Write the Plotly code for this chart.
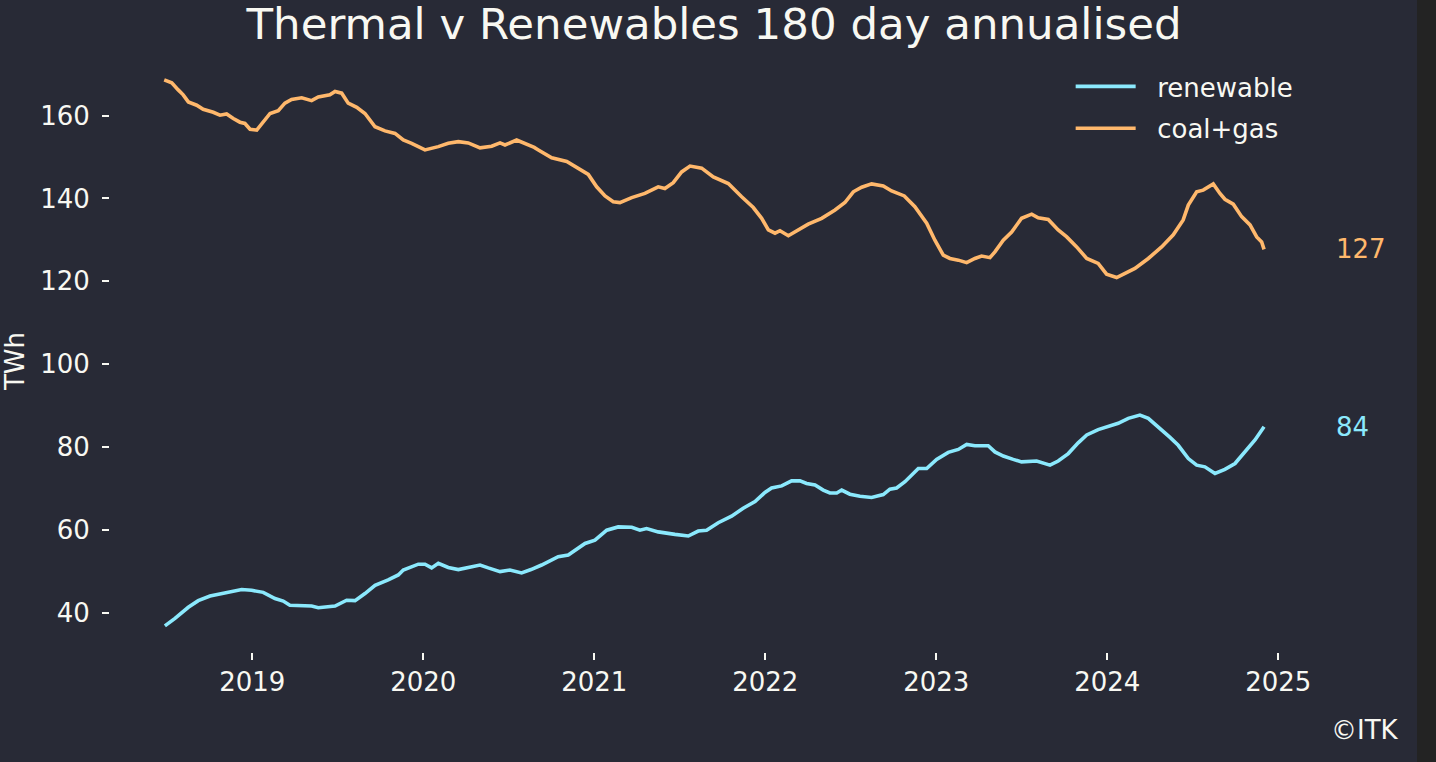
import pandas as pd
import plotly.graph_objects as go

# ---------------- data (decimal years, TWh) ----------------
coal_gas_years = [
    2018.485, 2018.529, 2018.567, 2018.596, 2018.626, 2018.675, 2018.713, 2018.772, 2018.811, 2018.850,
    2018.889, 2018.928, 2018.957, 2018.987, 2019.026, 2019.064, 2019.104, 2019.152, 2019.191, 2019.230,
    2019.289, 2019.347, 2019.386, 2019.454, 2019.484, 2019.523, 2019.561, 2019.611, 2019.659, 2019.718,
    2019.776, 2019.835, 2019.883, 2019.932, 2020.010, 2020.088, 2020.146, 2020.205, 2020.263, 2020.332,
    2020.400, 2020.449, 2020.478, 2020.546, 2020.595, 2020.649, 2020.673, 2020.751, 2020.839, 2020.906,
    2020.965, 2021.014, 2021.063, 2021.111, 2021.150, 2021.219, 2021.296, 2021.374, 2021.413, 2021.462,
    2021.511, 2021.560, 2021.628, 2021.696, 2021.784, 2021.862, 2021.930, 2021.979, 2022.018, 2022.057,
    2022.086, 2022.135, 2022.193, 2022.251, 2022.330, 2022.408, 2022.466, 2022.515, 2022.564, 2022.622,
    2022.690, 2022.739, 2022.813, 2022.875, 2022.944, 2022.992, 2023.041, 2023.080, 2023.129, 2023.178,
    2023.226, 2023.265, 2023.314, 2023.343, 2023.392, 2023.441, 2023.499, 2023.558, 2023.596, 2023.655,
    2023.713, 2023.763, 2023.821, 2023.880, 2023.947, 2023.996, 2024.055, 2024.103, 2024.162, 2024.240,
    2024.318, 2024.386, 2024.444, 2024.474, 2024.523, 2024.561, 2024.620, 2024.659, 2024.688, 2024.737,
    2024.786, 2024.835, 2024.874, 2024.903, 2024.917,
]
coal_gas_twh = [
    168.6, 167.9, 166.2, 165.0, 163.3, 162.5, 161.5, 160.8, 160.1, 160.4,
    159.3, 158.4, 158.1, 156.7, 156.5, 158.5, 160.5, 161.2, 163.0, 163.9,
    164.3, 163.6, 164.5, 165.0, 165.8, 165.4, 163.0, 162.0, 160.5, 157.3,
    156.3, 155.7, 154.1, 153.3, 151.7, 152.5, 153.3, 153.7, 153.4, 152.2,
    152.6, 153.4, 152.9, 154.1, 153.3, 152.3, 151.7, 149.8, 148.9, 147.3,
    145.8, 142.8, 140.6, 139.2, 139.0, 140.2, 141.2, 142.8, 142.4, 143.8,
    146.4, 147.8, 147.3, 145.2, 143.6, 140.4, 137.8, 135.2, 132.4, 131.6,
    132.2, 131.0, 132.4, 133.8, 135.2, 137.2, 139.0, 141.6, 142.7, 143.5,
    143.0, 141.8, 140.6, 138.0, 134.0, 129.9, 126.3, 125.5, 125.1, 124.5,
    125.5, 126.1, 125.7, 127.1, 129.9, 131.9, 135.2, 136.2, 135.3, 134.9,
    132.4, 130.7, 128.3, 125.5, 124.3, 121.7, 120.9, 121.9, 123.1, 125.5,
    128.3, 131.2, 134.8, 138.4, 141.6, 142.0, 143.5, 141.2, 139.8, 138.6,
    135.6, 133.6, 130.7, 129.5, 127.7,
]

renewable_years = [
    2018.489, 2018.548, 2018.626, 2018.684, 2018.753, 2018.821, 2018.880, 2018.938, 2018.996, 2019.064,
    2019.133, 2019.181, 2019.220, 2019.289, 2019.347, 2019.386, 2019.484, 2019.552, 2019.601, 2019.659,
    2019.718, 2019.795, 2019.854, 2019.883, 2019.971, 2020.010, 2020.049, 2020.088, 2020.146, 2020.205,
    2020.283, 2020.332, 2020.380, 2020.449, 2020.507, 2020.575, 2020.630, 2020.692, 2020.789, 2020.848,
    2020.946, 2021.004, 2021.073, 2021.140, 2021.219, 2021.267, 2021.306, 2021.374, 2021.472, 2021.550,
    2021.608, 2021.657, 2021.725, 2021.803, 2021.871, 2021.940, 2021.998, 2022.037, 2022.096, 2022.154,
    2022.203, 2022.242, 2022.291, 2022.339, 2022.378, 2022.418, 2022.447, 2022.495, 2022.554, 2022.622,
    2022.690, 2022.729, 2022.768, 2022.817, 2022.895, 2022.944, 2023.002, 2023.070, 2023.129, 2023.178,
    2023.226, 2023.304, 2023.343, 2023.392, 2023.450, 2023.499, 2023.587, 2023.665, 2023.713, 2023.772,
    2023.830, 2023.880, 2023.947, 2024.016, 2024.064, 2024.123, 2024.191, 2024.240, 2024.308, 2024.367,
    2024.415, 2024.474, 2024.523, 2024.571, 2024.630, 2024.688, 2024.747, 2024.805, 2024.864, 2024.917,
]
renewable_twh = [
    36.8, 38.6, 41.3, 42.9, 44.0, 44.6, 45.0, 45.6, 45.4, 44.9,
    43.4, 42.8, 41.8, 41.8, 41.6, 41.2, 41.6, 43.0, 42.9, 44.6,
    46.6, 47.9, 49.1, 50.3, 51.7, 51.7, 50.8, 51.9, 50.9, 50.4,
    51.1, 51.5, 50.8, 49.9, 50.3, 49.6, 50.4, 51.5, 53.5, 53.9,
    56.7, 57.5, 59.9, 60.7, 60.6, 59.9, 60.3, 59.5, 58.9, 58.5,
    59.7, 59.9, 61.7, 63.3, 65.2, 66.8, 69.0, 70.1, 70.6, 71.8,
    71.8, 71.2, 70.8, 69.6, 68.9, 68.9, 69.6, 68.6, 68.1, 67.8,
    68.5, 69.8, 70.1, 71.6, 74.8, 74.8, 77.0, 78.7, 79.4, 80.6,
    80.3, 80.3, 78.8, 77.8, 77.0, 76.4, 76.6, 75.6, 76.6, 78.4,
    81.0, 82.9, 84.2, 85.0, 85.7, 86.9, 87.7, 86.9, 84.5, 82.3,
    80.4, 77.2, 75.6, 75.2, 73.6, 74.6, 76.0, 78.8, 81.7, 84.9,
]

series_names = ["renewable", "coal+gas"]
tick_years = [2019, 2020, 2021, 2022, 2023, 2024, 2025]
y_ticks = [40, 60, 80, 100, 120, 140, 160]

# ---------------- styling ----------------
BG = "#282a36"
PAGE_BG = "#232323"
FG = "#f8f8f2"
CYAN = "#8be9fd"
ORANGE = "#ffb86c"
FONT = "DejaVu Sans"
FS = 26


def to_date(y):
    return pd.Timestamp("2019-01-01") + pd.to_timedelta((y - 2019) * 365.25, unit="D")


ren_x = [to_date(v) for v in renewable_years]
cg_x = [to_date(v) for v in coal_gas_years]

fig = go.Figure()
fig.add_trace(go.Scatter(x=ren_x, y=renewable_twh, mode="lines",
                         name="\u00a0\u00a0" + series_names[0], legendgroup="g1",
                         line=dict(color=CYAN, width=3.6)))
fig.add_trace(go.Scatter(x=cg_x, y=coal_gas_twh, mode="lines",
                         name="\u00a0\u00a0" + series_names[1], legendgroup="g2",
                         line=dict(color=ORANGE, width=3.6)))

# end labels
label_offset = pd.Timedelta(days=150)
fig.add_annotation(x=cg_x[-1] + label_offset, y=coal_gas_twh[-1], text=str(int(coal_gas_twh[-1])),
                   showarrow=False, xanchor="left", yanchor="middle",
                   font=dict(color=ORANGE, size=FS, family=FONT))
fig.add_annotation(x=ren_x[-1] + label_offset, y=renewable_twh[-1], text=str(int(renewable_twh[-1])),
                   showarrow=False, xanchor="left", yanchor="middle",
                   font=dict(color=CYAN, size=FS, family=FONT))

# copyright
fig.add_annotation(xref="paper", yref="paper", x=1.0005, y=-0.134, text="©ITK",
                   showarrow=False, xanchor="right", yanchor="middle",
                   font=dict(color=FG, size=FS, family=FONT))

fig.update_layout(
    width=1417, height=762,
    paper_bgcolor=BG, plot_bgcolor=BG,
    margin=dict(l=110, r=17, t=70, b=110),
    font=dict(family=FONT, color=FG, size=FS),
    title=dict(text="Thermal v Renewables 180 day annualised", x=0.5039, xref="container",
               y=0.969, yref="container", xanchor="center", yanchor="middle",
               font=dict(size=43.5, color=FG, family=FONT)),
    showlegend=True,
    legend=dict(x=0.7447, y=1.012, xanchor="left", yanchor="top", bgcolor="rgba(0,0,0,0)",
                font=dict(size=FS, color=FG, family=FONT), itemwidth=60, tracegroupgap=5),
)
fig.update_xaxes(
    type="date",
    range=[to_date(2018.168), to_date(2025.712)],
    tickvals=[to_date(v) for v in tick_years],
    ticktext=[str(v) for v in tick_years],
    showgrid=False, zeroline=False, showline=False,
    ticks="outside", ticklen=7, tickwidth=1.5, tickcolor=FG,
    tickfont=dict(size=FS, color=FG, family=FONT),
)
fig.update_yaxes(
    range=[30.5, 171.0],
    tickvals=y_ticks,
    showgrid=False, zeroline=False, showline=False,
    ticks="outside", ticklen=7, tickwidth=1.5, tickcolor=FG,
    ticklabelstandoff=7,
    tickfont=dict(size=FS, color=FG, family=FONT),
    title=dict(text="TWh", font=dict(size=FS, color=FG, family=FONT), standoff=8),
)

page_js = (
    "document.documentElement.style.background='%s';"
    "document.body.style.margin='0';"
    "document.body.style.background='%s';"
    "document.body.style.overflow='hidden';" % (PAGE_BG, PAGE_BG)
)
fig.write_html("out.html", post_script=page_js, config={"displayModeBar": False})
